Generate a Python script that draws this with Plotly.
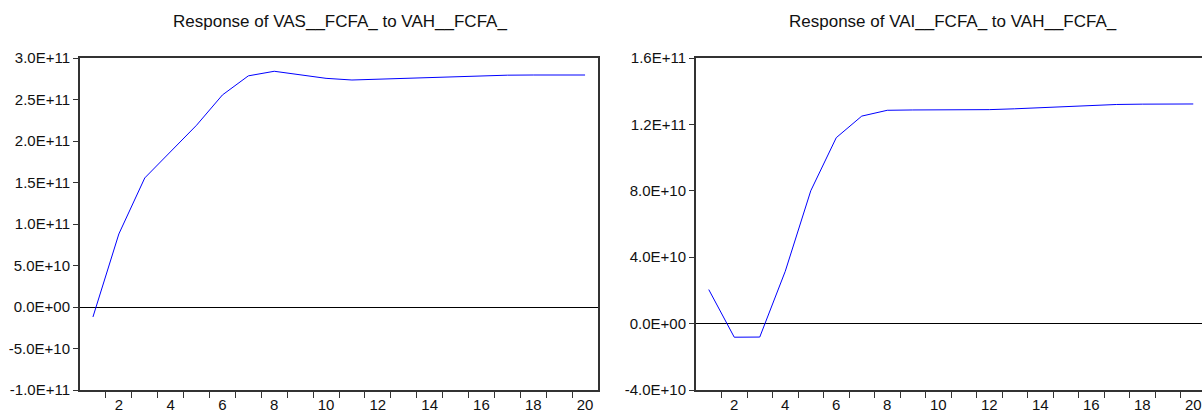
import plotly.graph_objects as go

periods = list(range(1, 21))
vas_resp = [-1.2e10, 8.8e10, 1.555e11, 1.87e11, 2.19e11, 2.555e11, 2.785e11, 2.84e11, 2.80e11,
            2.755e11, 2.735e11, 2.745e11, 2.76e11, 2.77e11, 2.78e11, 2.788e11, 2.793e11,
            2.795e11, 2.795e11, 2.795e11]
vai_resp = [2.05e10, -0.82e10, -0.81e10, 3.15e10, 8.0e10, 11.2e10, 12.5e10, 12.85e10, 12.87e10,
            12.87e10, 12.87e10, 12.89e10, 12.94e10, 13.0e10, 13.08e10, 13.15e10, 13.2e10,
            13.22e10, 13.23e10, 13.23e10]

left_title = "Response of VAS__FCFA_ to VAH__FCFA_"
right_title = "Response of VAI__FCFA_ to VAH__FCFA_"

left_yvals = [-1e11, -5e10, 0, 5e10, 1e11, 1.5e11, 2e11, 2.5e11, 3e11]
left_ytext = ["-1.0E+11", "-5.0E+10", "0.0E+00", "5.0E+10", "1.0E+11", "1.5E+11",
              "2.0E+11", "2.5E+11", "3.0E+11"]
right_yvals = [-4e10, 0, 4e10, 8e10, 1.2e11, 1.6e11]
right_ytext = ["-4.0E+10", "0.0E+00", "4.0E+10", "8.0E+10", "1.2E+11", "1.6E+11"]

xlabels = [2, 4, 6, 8, 10, 12, 14, 16, 18, 20]
minor_vals = [i + 0.5 for i in range(1, 20)]

W, H = 1202, 415
font = dict(family="Liberation Sans, Arial, sans-serif", size=15, color="#111")
LC = "#333"

fig = go.Figure()
fig.add_trace(go.Scatter(x=periods, y=vas_resp, mode="lines",
                         line=dict(color="#0000ff", width=1), xaxis="x", yaxis="y",
                         showlegend=False))
fig.add_trace(go.Scatter(x=periods, y=vai_resp, mode="lines",
                         line=dict(color="#0000ff", width=1), xaxis="x2", yaxis="y2",
                         showlegend=False))

def xax(domain, rng, anchor):
    return dict(domain=domain, range=rng, anchor=anchor, tickmode="array", tickvals=xlabels,
                ticktext=[str(v) for v in xlabels], ticks="", showgrid=False,
                zeroline=False, showline=True, linecolor=LC, linewidth=2,
                mirror=True, tickfont=font,
                minor=dict(tickmode="array", tickvals=minor_vals, ticks="outside",
                           ticklen=6, tickcolor=LC, tickwidth=1, showgrid=False))

def yax(anchor, rng, vals, text, mirror):
    return dict(anchor=anchor, domain=[0, 1], range=rng, tickmode="array", tickvals=vals,
                ticktext=text, ticks="outside", ticklen=5, tickcolor=LC, tickwidth=1,
                showgrid=False, zeroline=True, zerolinecolor="#000", zerolinewidth=1,
                showline=True, linecolor=LC, linewidth=2, mirror=mirror,
                tickfont=font)

x1d = [80 / W, 598 / W]
x2d = [696 / W, 1.0]
r2 = 0.5 + (W - 696) / 25.5

top = 58
bot = H - 390

fig.update_layout(
    width=W, height=H,
    margin=dict(l=0, r=0, t=top, b=bot, autoexpand=False),
    paper_bgcolor="white", plot_bgcolor="white",
    font=font,
    xaxis=xax(x1d, [0.5, 20.5], "y"),
    yaxis=yax("x", [-1e11, 3e11], left_yvals, left_ytext, True),
    xaxis2=xax(x2d, [0.5, r2], "y2"),
    yaxis2=yax("x2", [-4e10, 1.6e11], right_yvals, right_ytext, False),
)

ty = 1 + (top - 22) / 332
fig.add_annotation(text=left_title, x=340 / W, y=ty, xref="paper", yref="paper",
                   xanchor="center", yanchor="middle", showarrow=False,
                   font=dict(font, size=17))
fig.add_annotation(text=right_title, x=953 / W, y=ty, xref="paper", yref="paper",
                   xanchor="center", yanchor="middle", showarrow=False,
                   font=dict(font, size=17))

fig.write_html("out.html", config={"displayModeBar": False},
               post_script="document.body.style.margin='0';document.body.style.overflow='hidden';")
